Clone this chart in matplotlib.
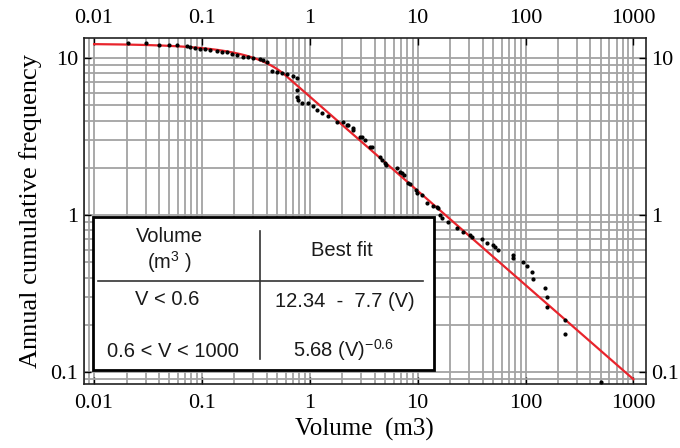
import numpy as np
import matplotlib.pyplot as plt
from matplotlib.ticker import FixedLocator, FixedFormatter, LogLocator, NullFormatter
from matplotlib.patches import Rectangle

volume = [0.0207, 0.0303, 0.0401, 0.0497, 0.0589, 0.0730, 0.0777, 0.0865, 0.0962, 0.107,
          0.119, 0.138, 0.154, 0.171, 0.191, 0.212, 0.241, 0.268, 0.299, 0.347,
          0.370, 0.403, 0.448, 0.499, 0.555, 0.617, 0.702, 0.764, 0.764, 0.764,
          0.780, 0.849, 0.966, 1.076, 1.172, 1.303, 1.482, 1.796, 2.04, 2.22,
          2.27, 2.53, 2.53, 2.94, 3.06, 3.27, 3.63, 3.79, 4.50, 4.70,
          5.00, 5.05, 6.47, 6.90, 7.19, 7.5, 8.18, 8.5, 9.7, 9.91,
          11.0, 12.3, 14.0, 15.2, 15.5, 16.2, 16.9, 19.2, 23.3, 26.5,
          30.8, 32.1, 39.7, 44.2, 50.2, 52.5, 56.0, 77.1, 77.1, 95.4,
          104, 116, 118, 153, 159, 159, 234, 234, 502]
frequency = [12.46, 12.46, 12.15, 12.15, 12.05, 11.92, 11.75, 11.67, 11.49, 11.41,
             11.24, 11.08, 11.00, 10.92, 10.68, 10.45, 10.22, 10.15, 10.0, 9.85,
             9.71, 9.43, 8.27, 8.14, 8.03, 7.91, 7.68, 7.46, 6.25, 5.65,
             5.40, 5.17, 5.17, 4.95, 4.67, 4.46, 4.27, 3.91, 3.91, 3.74,
             3.74, 3.58, 3.48, 3.14, 3.14, 3.00, 2.71, 2.71, 2.34, 2.24,
             2.14, 2.08, 1.99, 1.88, 1.85, 1.80, 1.60, 1.58, 1.44, 1.38,
             1.34, 1.19, 1.14, 1.12, 1.11, 1.0, 0.957, 0.902, 0.826, 0.779,
             0.745, 0.724, 0.703, 0.663, 0.644, 0.625, 0.598, 0.556, 0.532, 0.502,
             0.473, 0.433, 0.391, 0.343, 0.300, 0.259, 0.214, 0.175, 0.086]

# best fit (from the table in the chart)
lin_a, lin_b = 12.34, 7.7      # V < 0.6
pow_c, pow_k = 5.68, -0.6      # 0.6 < V < 1000
v_break = 0.6
v_min, v_max = 0.01, 1000

x_ticks = [0.01, 0.1, 1, 10, 100, 1000]
x_labels = ['0.01', '0.1', '1', '10', '100', '1000']
y_ticks = [0.1, 1, 10]
y_labels = ['0.1', '1', '10']

plt.rcParams['font.family'] = 'Liberation Serif'
plt.rcParams['mathtext.fontset'] = 'custom'
plt.rcParams['mathtext.rm'] = 'Liberation Sans'
plt.rcParams['mathtext.it'] = 'Liberation Sans:italic'

fig = plt.figure(figsize=(6.8, 4.48), dpi=100)
ax = fig.add_axes([0.123, 0.143, 0.827, 0.772])

ax.set_xscale('log')
ax.set_yscale('log')
ax.set_xlim(0.008, 1310)
ax.set_ylim(0.084, 13.4)

# grid on every 1..9 of each decade
ax.xaxis.set_minor_locator(LogLocator(base=10, subs=np.arange(2, 10)))
ax.yaxis.set_minor_locator(LogLocator(base=10, subs=np.arange(2, 10)))
ax.xaxis.set_minor_formatter(NullFormatter())
ax.yaxis.set_minor_formatter(NullFormatter())
ax.grid(True, which='both', color='#a3a3a3', linewidth=1.3)
ax.set_axisbelow(True)

ax.xaxis.set_major_locator(FixedLocator(x_ticks))
ax.xaxis.set_major_formatter(FixedFormatter(x_labels))
ax.yaxis.set_major_locator(FixedLocator(y_ticks))
ax.yaxis.set_major_formatter(FixedFormatter(y_labels))

ax.tick_params(which='major', direction='in', length=5, width=1,
               top=True, right=True, labeltop=True, labelright=True, labelsize=16)
ax.tick_params(which='minor', length=0)
ax.tick_params(axis='x', which='major', pad=7)
ax.tick_params(axis='y', which='major', pad=4)

for sp in ax.spines.values():
    sp.set_linewidth(1.2)
    sp.set_color('#222222')

# fitted curve
v = np.logspace(np.log10(v_min), np.log10(v_max), 400)
fit = np.where(v < v_break, lin_a - lin_b * v, pow_c * v ** pow_k)
ax.plot(v, fit, color='#e8242c', linewidth=1.6, zorder=3)

# data points
ax.plot(volume, frequency, 'o', color='black', markersize=2.0, zorder=4)

ax.set_xlabel('Volume  (m3)', fontsize=18, labelpad=4)
ax.set_ylabel('Annual cumulative frequency', fontsize=19, labelpad=6)

# table with the best fit
box = Rectangle((0.0164, 0.0405), 0.607, 0.443, transform=ax.transAxes,
                facecolor='white', edgecolor='black', linewidth=2, zorder=10)
ax.add_patch(box)
ax.plot([0.0258, 0.604], [0.2986, 0.2986], transform=ax.transAxes,
        color='#333333', linewidth=1.2, zorder=11)
ax.plot([0.314, 0.314], [0.0723, 0.443], transform=ax.transAxes,
        color='#333333', linewidth=1.2, zorder=11)

tkw = dict(transform=ax.transAxes, ha='center', va='center', fontsize=14.5,
           fontfamily='Liberation Sans', color='#1a1a1a', zorder=12)
ax.text(0.152, 0.425, 'Volume', **tkw)
ax.text(0.152, 0.352, r'(m$^{3}$ )', **tkw)
ax.text(0.460, 0.387, 'Best fit', **tkw)
ax.text(0.1485, 0.243, 'V < 0.6', **tkw)
ax.text(0.465, 0.237, '12.34  -  7.7 (V)', **tkw)
ax.text(0.159, 0.0925, '0.6 < V < 1000', **tkw)
ax.text(0.4616, 0.098, r'5.68 (V)$^{-0.6}$', **tkw)

fig.savefig('out.png', dpi=100)
